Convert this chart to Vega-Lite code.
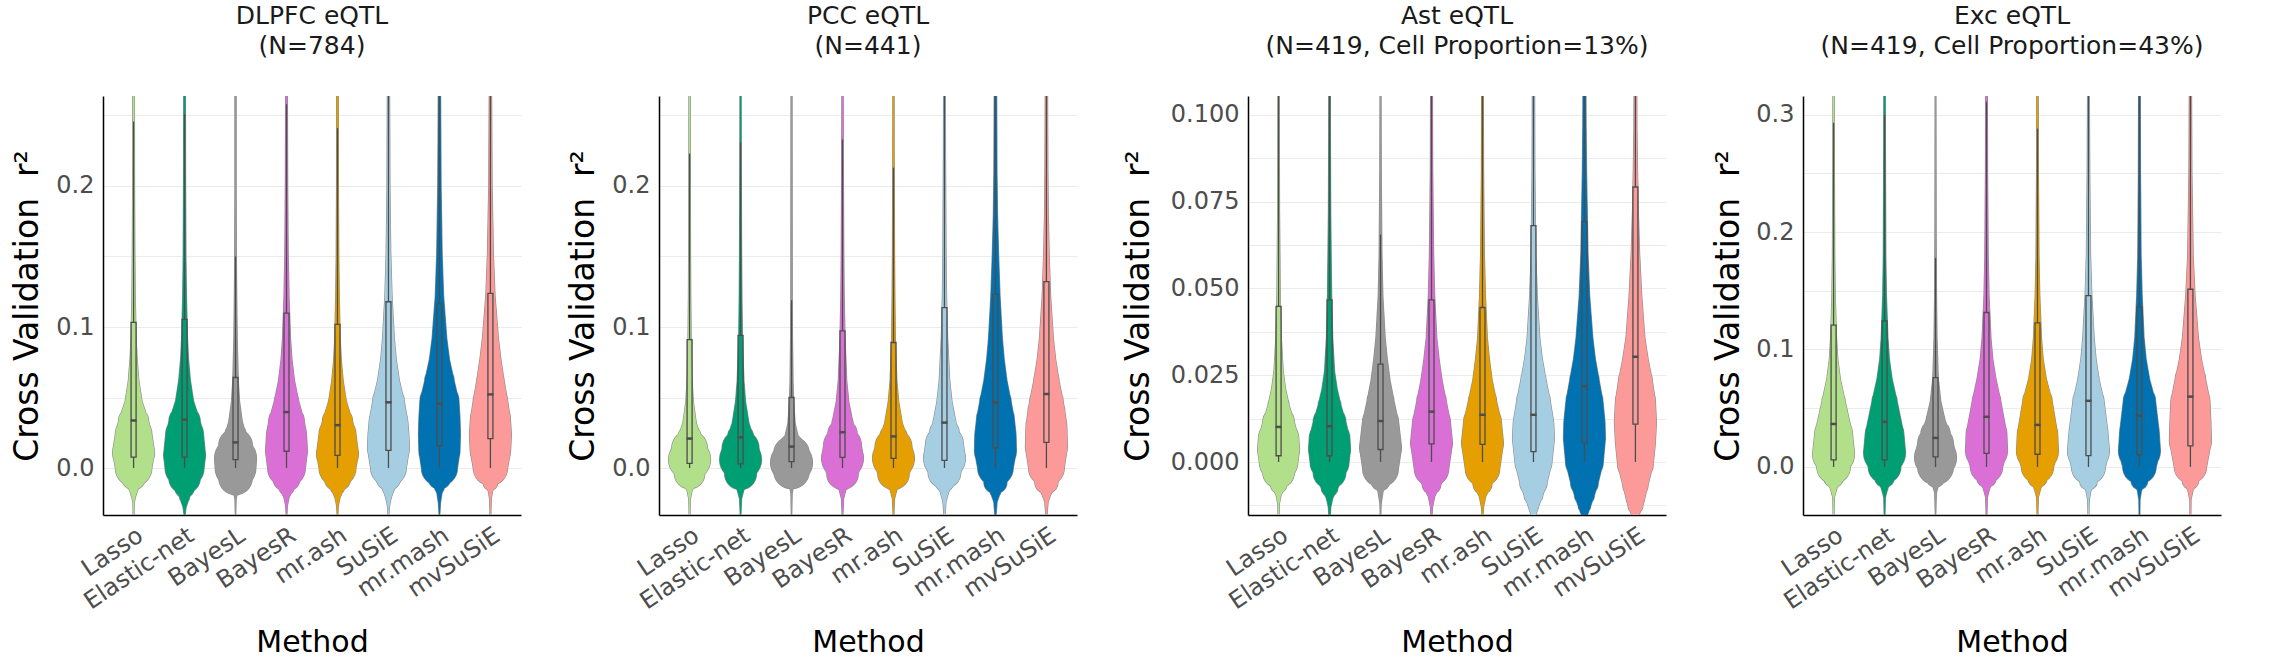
{
"$schema": "https://vega.github.io/schema/vega-lite/v6.json",
"padding": {"left": 10, "top": 4, "right": 5, "bottom": 0},
"background": "white",
"config": {
  "font": "DejaVu Sans",
  "view": {"stroke": null},
  "axis": {"ticks": false, "domainColor": "#000000", "domainWidth": 1.5, "labelColor": "#4d4d4d", "labelFontSize": 24, "titleColor": "#000000", "titleFontWeight": "normal", "gridColor": "#ebebeb", "gridWidth": 1.1},
  "axisX": {"grid": false, "labelAngle": -34, "labelAlign": "right", "labelBaseline": "top", "labelPadding": 8, "titleFontSize": 30, "titleY": 136, "titleBaseline": "alphabetic"},
  "axisY": {"grid": true, "labelPadding": 9, "labelOverlap": false, "titleFontSize": 33, "titleAngle": 270, "titleAlign": "center", "titleBaseline": "alphabetic", "titleY": 209.5},
  "title": {"fontSize": 25, "fontWeight": "normal", "color": "#1a1a1a", "lineHeight": 30, "anchor": "middle", "frame": "group", "baseline": "bottom", "offset": 37}
},
"datasets": {
"boxes": [
{"panel":"DLPFC","method":"Lasso","lower":0,"q1":0.0078,"median":0.0337,"q3":0.1033,"upper":0.2457},
{"panel":"DLPFC","method":"Elastic-net","lower":0,"q1":0.0078,"median":0.0343,"q3":0.1054,"upper":0.251},
{"panel":"DLPFC","method":"BayesL","lower":0,"q1":0.006,"median":0.0182,"q3":0.0642,"upper":0.150},
{"panel":"DLPFC","method":"BayesR","lower":0,"q1":0.0119,"median":0.0397,"q3":0.1099,"upper":0.258},
{"panel":"DLPFC","method":"mr.ash","lower":0,"q1":0.009,"median":0.0304,"q3":0.1018,"upper":0.241},
{"panel":"DLPFC","method":"SuSiE","lower":0,"q1":0.0125,"median":0.0466,"q3":0.1179,"upper":0.28},
{"panel":"DLPFC","method":"mr.mash","lower":0,"q1":0.0158,"median":0.0457,"q3":0.1164,"upper":0.28},
{"panel":"DLPFC","method":"mvSuSiE","lower":0,"q1":0.0209,"median":0.0522,"q3":0.1239,"upper":0.3},
{"panel":"PCC","method":"Lasso","lower":0,"q1":0.0033,"median":0.0209,"q3":0.091,"upper":0.223},
{"panel":"PCC","method":"Elastic-net","lower":0,"q1":0.003,"median":0.0218,"q3":0.094,"upper":0.231},
{"panel":"PCC","method":"BayesL","lower":0,"q1":0.0045,"median":0.0152,"q3":0.050,"upper":0.119},
{"panel":"PCC","method":"BayesR","lower":0,"q1":0.0075,"median":0.0254,"q3":0.0973,"upper":0.233},
{"panel":"PCC","method":"mr.ash","lower":0,"q1":0.0069,"median":0.0224,"q3":0.089,"upper":0.213},
{"panel":"PCC","method":"SuSiE","lower":0,"q1":0.0054,"median":0.0322,"q3":0.1137,"upper":0.28},
{"panel":"PCC","method":"mr.mash","lower":0,"q1":0.0143,"median":0.0466,"q3":0.1233,"upper":0.3},
{"panel":"PCC","method":"mvSuSiE","lower":0,"q1":0.0182,"median":0.0525,"q3":0.1322,"upper":0.3},
{"panel":"Ast","method":"Lasso","lower":0,"q1":0.0018,"median":0.0101,"q3":0.0448,"upper":0.115},
{"panel":"Ast","method":"Elastic-net","lower":0,"q1":0.0018,"median":0.0103,"q3":0.0467,"upper":0.115},
{"panel":"Ast","method":"BayesL","lower":0,"q1":0.0036,"median":0.0118,"q3":0.0282,"upper":0.0655},
{"panel":"Ast","method":"BayesR","lower":0,"q1":0.0052,"median":0.0145,"q3":0.0467,"upper":0.115},
{"panel":"Ast","method":"mr.ash","lower":0,"q1":0.0051,"median":0.0136,"q3":0.0445,"upper":0.115},
{"panel":"Ast","method":"SuSiE","lower":0,"q1":0.003,"median":0.0136,"q3":0.0681,"upper":0.115},
{"panel":"Ast","method":"mr.mash","lower":0,"q1":0.0055,"median":0.0218,"q3":0.0693,"upper":0.115},
{"panel":"Ast","method":"mvSuSiE","lower":0,"q1":0.0109,"median":0.0303,"q3":0.0792,"upper":0.115},
{"panel":"Exc","method":"Lasso","lower":0,"q1":0.0061,"median":0.0366,"q3":0.1208,"upper":0.293},
{"panel":"Exc","method":"Elastic-net","lower":0,"q1":0.0061,"median":0.0384,"q3":0.1244,"upper":0.30},
{"panel":"Exc","method":"BayesL","lower":0,"q1":0.0086,"median":0.0247,"q3":0.076,"upper":0.178},
{"panel":"Exc","method":"BayesR","lower":0,"q1":0.0115,"median":0.0427,"q3":0.1315,"upper":0.311},
{"panel":"Exc","method":"mr.ash","lower":0,"q1":0.0108,"median":0.0358,"q3":0.1226,"upper":0.288},
{"panel":"Exc","method":"SuSiE","lower":0,"q1":0.0097,"median":0.0563,"q3":0.1459,"upper":0.33},
{"panel":"Exc","method":"mr.mash","lower":0,"q1":0.0104,"median":0.0437,"q3":0.1362,"upper":0.33},
{"panel":"Exc","method":"mvSuSiE","lower":0,"q1":0.0179,"median":0.0599,"q3":0.1513,"upper":0.33}
],
"violins": [
{"panel":"DLPFC","method":"Lasso","r2":-0.033,"density":0.02},{"panel":"DLPFC","method":"Lasso","r2":-0.025,"density":0.03},{"panel":"DLPFC","method":"Lasso","r2":-0.021,"density":0.08},{"panel":"DLPFC","method":"Lasso","r2":-0.014,"density":0.23},{"panel":"DLPFC","method":"Lasso","r2":-0.007,"density":0.56},{"panel":"DLPFC","method":"Lasso","r2":0,"density":0.87},{"panel":"DLPFC","method":"Lasso","r2":0.011,"density":1.0},{"panel":"DLPFC","method":"Lasso","r2":0.024,"density":0.87},{"panel":"DLPFC","method":"Lasso","r2":0.033,"density":0.72},{"panel":"DLPFC","method":"Lasso","r2":0.0475,"density":0.4},{"panel":"DLPFC","method":"Lasso","r2":0.062,"density":0.25},{"panel":"DLPFC","method":"Lasso","r2":0.077,"density":0.17},{"panel":"DLPFC","method":"Lasso","r2":0.092,"density":0.12},{"panel":"DLPFC","method":"Lasso","r2":0.122,"density":0.08},{"panel":"DLPFC","method":"Lasso","r2":0.152,"density":0.06},{"panel":"DLPFC","method":"Lasso","r2":0.2,"density":0.045},{"panel":"DLPFC","method":"Lasso","r2":0.28,"density":0.04},
{"panel":"DLPFC","method":"Elastic-net","r2":-0.033,"density":0.03},{"panel":"DLPFC","method":"Elastic-net","r2":-0.028,"density":0.07},{"panel":"DLPFC","method":"Elastic-net","r2":-0.021,"density":0.23},{"panel":"DLPFC","method":"Elastic-net","r2":-0.014,"density":0.47},{"panel":"DLPFC","method":"Elastic-net","r2":-0.007,"density":0.75},{"panel":"DLPFC","method":"Elastic-net","r2":0,"density":0.93},{"panel":"DLPFC","method":"Elastic-net","r2":0.009,"density":1.0},{"panel":"DLPFC","method":"Elastic-net","r2":0.024,"density":0.9},{"panel":"DLPFC","method":"Elastic-net","r2":0.033,"density":0.75},{"panel":"DLPFC","method":"Elastic-net","r2":0.0475,"density":0.43},{"panel":"DLPFC","method":"Elastic-net","r2":0.062,"density":0.28},{"panel":"DLPFC","method":"Elastic-net","r2":0.077,"density":0.19},{"panel":"DLPFC","method":"Elastic-net","r2":0.092,"density":0.14},{"panel":"DLPFC","method":"Elastic-net","r2":0.122,"density":0.09},{"panel":"DLPFC","method":"Elastic-net","r2":0.152,"density":0.065},{"panel":"DLPFC","method":"Elastic-net","r2":0.2,"density":0.05},{"panel":"DLPFC","method":"Elastic-net","r2":0.28,"density":0.04},
{"panel":"DLPFC","method":"BayesL","r2":-0.033,"density":0.01},{"panel":"DLPFC","method":"BayesL","r2":-0.022,"density":0.03},{"panel":"DLPFC","method":"BayesL","r2":-0.018,"density":0.08},{"panel":"DLPFC","method":"BayesL","r2":-0.014,"density":0.35},{"panel":"DLPFC","method":"BayesL","r2":-0.007,"density":0.8},{"panel":"DLPFC","method":"BayesL","r2":0,"density":0.97},{"panel":"DLPFC","method":"BayesL","r2":0.007,"density":1.0},{"panel":"DLPFC","method":"BayesL","r2":0.016,"density":0.8},{"panel":"DLPFC","method":"BayesL","r2":0.024,"density":0.5},{"panel":"DLPFC","method":"BayesL","r2":0.033,"density":0.32},{"panel":"DLPFC","method":"BayesL","r2":0.0475,"density":0.19},{"panel":"DLPFC","method":"BayesL","r2":0.062,"density":0.13},{"panel":"DLPFC","method":"BayesL","r2":0.092,"density":0.08},{"panel":"DLPFC","method":"BayesL","r2":0.122,"density":0.055},{"panel":"DLPFC","method":"BayesL","r2":0.152,"density":0.04},{"panel":"DLPFC","method":"BayesL","r2":0.2,"density":0.03},{"panel":"DLPFC","method":"BayesL","r2":0.28,"density":0.03},
{"panel":"DLPFC","method":"BayesR","r2":-0.033,"density":0.02},{"panel":"DLPFC","method":"BayesR","r2":-0.027,"density":0.04},{"panel":"DLPFC","method":"BayesR","r2":-0.021,"density":0.12},{"panel":"DLPFC","method":"BayesR","r2":-0.014,"density":0.35},{"panel":"DLPFC","method":"BayesR","r2":-0.007,"density":0.65},{"panel":"DLPFC","method":"BayesR","r2":0,"density":0.9},{"panel":"DLPFC","method":"BayesR","r2":0.012,"density":1.0},{"panel":"DLPFC","method":"BayesR","r2":0.024,"density":0.95},{"panel":"DLPFC","method":"BayesR","r2":0.033,"density":0.85},{"panel":"DLPFC","method":"BayesR","r2":0.0475,"density":0.58},{"panel":"DLPFC","method":"BayesR","r2":0.062,"density":0.38},{"panel":"DLPFC","method":"BayesR","r2":0.077,"density":0.26},{"panel":"DLPFC","method":"BayesR","r2":0.092,"density":0.19},{"panel":"DLPFC","method":"BayesR","r2":0.122,"density":0.12},{"panel":"DLPFC","method":"BayesR","r2":0.152,"density":0.08},{"panel":"DLPFC","method":"BayesR","r2":0.2,"density":0.055},{"panel":"DLPFC","method":"BayesR","r2":0.28,"density":0.04},
{"panel":"DLPFC","method":"mr.ash","r2":-0.033,"density":0.02},{"panel":"DLPFC","method":"mr.ash","r2":-0.027,"density":0.04},{"panel":"DLPFC","method":"mr.ash","r2":-0.021,"density":0.12},{"panel":"DLPFC","method":"mr.ash","r2":-0.014,"density":0.33},{"panel":"DLPFC","method":"mr.ash","r2":-0.007,"density":0.63},{"panel":"DLPFC","method":"mr.ash","r2":0,"density":0.88},{"panel":"DLPFC","method":"mr.ash","r2":0.01,"density":1.0},{"panel":"DLPFC","method":"mr.ash","r2":0.024,"density":0.88},{"panel":"DLPFC","method":"mr.ash","r2":0.033,"density":0.72},{"panel":"DLPFC","method":"mr.ash","r2":0.0475,"density":0.42},{"panel":"DLPFC","method":"mr.ash","r2":0.062,"density":0.27},{"panel":"DLPFC","method":"mr.ash","r2":0.077,"density":0.18},{"panel":"DLPFC","method":"mr.ash","r2":0.092,"density":0.13},{"panel":"DLPFC","method":"mr.ash","r2":0.122,"density":0.085},{"panel":"DLPFC","method":"mr.ash","r2":0.152,"density":0.06},{"panel":"DLPFC","method":"mr.ash","r2":0.2,"density":0.045},{"panel":"DLPFC","method":"mr.ash","r2":0.28,"density":0.04},
{"panel":"DLPFC","method":"SuSiE","r2":-0.033,"density":0.02},{"panel":"DLPFC","method":"SuSiE","r2":-0.027,"density":0.05},{"panel":"DLPFC","method":"SuSiE","r2":-0.021,"density":0.13},{"panel":"DLPFC","method":"SuSiE","r2":-0.014,"density":0.3},{"panel":"DLPFC","method":"SuSiE","r2":-0.007,"density":0.58},{"panel":"DLPFC","method":"SuSiE","r2":0,"density":0.85},{"panel":"DLPFC","method":"SuSiE","r2":0.014,"density":1.0},{"panel":"DLPFC","method":"SuSiE","r2":0.024,"density":0.97},{"panel":"DLPFC","method":"SuSiE","r2":0.033,"density":0.92},{"panel":"DLPFC","method":"SuSiE","r2":0.0475,"density":0.75},{"panel":"DLPFC","method":"SuSiE","r2":0.062,"density":0.52},{"panel":"DLPFC","method":"SuSiE","r2":0.077,"density":0.37},{"panel":"DLPFC","method":"SuSiE","r2":0.092,"density":0.28},{"panel":"DLPFC","method":"SuSiE","r2":0.122,"density":0.17},{"panel":"DLPFC","method":"SuSiE","r2":0.152,"density":0.11},{"panel":"DLPFC","method":"SuSiE","r2":0.2,"density":0.07},{"panel":"DLPFC","method":"SuSiE","r2":0.28,"density":0.05},
{"panel":"DLPFC","method":"mr.mash","r2":-0.033,"density":0.02},{"panel":"DLPFC","method":"mr.mash","r2":-0.025,"density":0.05},{"panel":"DLPFC","method":"mr.mash","r2":-0.018,"density":0.12},{"panel":"DLPFC","method":"mr.mash","r2":-0.014,"density":0.23},{"panel":"DLPFC","method":"mr.mash","r2":-0.007,"density":0.54},{"panel":"DLPFC","method":"mr.mash","r2":0,"density":0.86},{"panel":"DLPFC","method":"mr.mash","r2":0.012,"density":0.98},{"panel":"DLPFC","method":"mr.mash","r2":0.024,"density":1.0},{"panel":"DLPFC","method":"mr.mash","r2":0.035,"density":0.98},{"panel":"DLPFC","method":"mr.mash","r2":0.0475,"density":0.93},{"panel":"DLPFC","method":"mr.mash","r2":0.062,"density":0.7},{"panel":"DLPFC","method":"mr.mash","r2":0.077,"density":0.48},{"panel":"DLPFC","method":"mr.mash","r2":0.092,"density":0.35},{"panel":"DLPFC","method":"mr.mash","r2":0.122,"density":0.2},{"panel":"DLPFC","method":"mr.mash","r2":0.152,"density":0.13},{"panel":"DLPFC","method":"mr.mash","r2":0.2,"density":0.08},{"panel":"DLPFC","method":"mr.mash","r2":0.28,"density":0.05},
{"panel":"DLPFC","method":"mvSuSiE","r2":-0.033,"density":0.02},{"panel":"DLPFC","method":"mvSuSiE","r2":-0.022,"density":0.04},{"panel":"DLPFC","method":"mvSuSiE","r2":-0.0165,"density":0.1},{"panel":"DLPFC","method":"mvSuSiE","r2":-0.0105,"density":0.35},{"panel":"DLPFC","method":"mvSuSiE","r2":0,"density":0.82},{"panel":"DLPFC","method":"mvSuSiE","r2":0.012,"density":0.96},{"panel":"DLPFC","method":"mvSuSiE","r2":0.024,"density":1.0},{"panel":"DLPFC","method":"mvSuSiE","r2":0.035,"density":0.95},{"panel":"DLPFC","method":"mvSuSiE","r2":0.0475,"density":0.82},{"panel":"DLPFC","method":"mvSuSiE","r2":0.062,"density":0.65},{"panel":"DLPFC","method":"mvSuSiE","r2":0.077,"density":0.5},{"panel":"DLPFC","method":"mvSuSiE","r2":0.092,"density":0.38},{"panel":"DLPFC","method":"mvSuSiE","r2":0.122,"density":0.22},{"panel":"DLPFC","method":"mvSuSiE","r2":0.152,"density":0.14},{"panel":"DLPFC","method":"mvSuSiE","r2":0.2,"density":0.08},{"panel":"DLPFC","method":"mvSuSiE","r2":0.28,"density":0.05},
{"panel":"PCC","method":"Lasso","r2":-0.033,"density":0.02},{"panel":"PCC","method":"Lasso","r2":-0.022,"density":0.04},{"panel":"PCC","method":"Lasso","r2":-0.016,"density":0.12},{"panel":"PCC","method":"Lasso","r2":-0.01,"density":0.35},{"panel":"PCC","method":"Lasso","r2":-0.004,"density":0.72},{"panel":"PCC","method":"Lasso","r2":0.006,"density":1.0},{"panel":"PCC","method":"Lasso","r2":0.014,"density":0.85},{"panel":"PCC","method":"Lasso","r2":0.022,"density":0.55},{"panel":"PCC","method":"Lasso","r2":0.032,"density":0.32},{"panel":"PCC","method":"Lasso","r2":0.047,"density":0.18},{"panel":"PCC","method":"Lasso","r2":0.062,"density":0.12},{"panel":"PCC","method":"Lasso","r2":0.092,"density":0.075},{"panel":"PCC","method":"Lasso","r2":0.122,"density":0.055},{"panel":"PCC","method":"Lasso","r2":0.152,"density":0.045},{"panel":"PCC","method":"Lasso","r2":0.22,"density":0.035},{"panel":"PCC","method":"Lasso","r2":0.28,"density":0.03},
{"panel":"PCC","method":"Elastic-net","r2":-0.033,"density":0.02},{"panel":"PCC","method":"Elastic-net","r2":-0.022,"density":0.05},{"panel":"PCC","method":"Elastic-net","r2":-0.016,"density":0.15},{"panel":"PCC","method":"Elastic-net","r2":-0.01,"density":0.4},{"panel":"PCC","method":"Elastic-net","r2":-0.004,"density":0.76},{"panel":"PCC","method":"Elastic-net","r2":0.006,"density":1.0},{"panel":"PCC","method":"Elastic-net","r2":0.014,"density":0.88},{"panel":"PCC","method":"Elastic-net","r2":0.022,"density":0.62},{"panel":"PCC","method":"Elastic-net","r2":0.032,"density":0.4},{"panel":"PCC","method":"Elastic-net","r2":0.047,"density":0.24},{"panel":"PCC","method":"Elastic-net","r2":0.062,"density":0.16},{"panel":"PCC","method":"Elastic-net","r2":0.092,"density":0.09},{"panel":"PCC","method":"Elastic-net","r2":0.122,"density":0.065},{"panel":"PCC","method":"Elastic-net","r2":0.152,"density":0.05},{"panel":"PCC","method":"Elastic-net","r2":0.22,"density":0.035},{"panel":"PCC","method":"Elastic-net","r2":0.28,"density":0.03},
{"panel":"PCC","method":"BayesL","r2":-0.033,"density":0.01},{"panel":"PCC","method":"BayesL","r2":-0.018,"density":0.03},{"panel":"PCC","method":"BayesL","r2":-0.013,"density":0.1},{"panel":"PCC","method":"BayesL","r2":-0.008,"density":0.4},{"panel":"PCC","method":"BayesL","r2":-0.002,"density":0.85},{"panel":"PCC","method":"BayesL","r2":0.004,"density":1.0},{"panel":"PCC","method":"BayesL","r2":0.01,"density":0.85},{"panel":"PCC","method":"BayesL","r2":0.016,"density":0.55},{"panel":"PCC","method":"BayesL","r2":0.022,"density":0.32},{"panel":"PCC","method":"BayesL","r2":0.032,"density":0.17},{"panel":"PCC","method":"BayesL","r2":0.047,"density":0.1},{"panel":"PCC","method":"BayesL","r2":0.062,"density":0.07},{"panel":"PCC","method":"BayesL","r2":0.092,"density":0.045},{"panel":"PCC","method":"BayesL","r2":0.12,"density":0.035},{"panel":"PCC","method":"BayesL","r2":0.28,"density":0.025},
{"panel":"PCC","method":"BayesR","r2":-0.033,"density":0.02},{"panel":"PCC","method":"BayesR","r2":-0.022,"density":0.05},{"panel":"PCC","method":"BayesR","r2":-0.016,"density":0.15},{"panel":"PCC","method":"BayesR","r2":-0.01,"density":0.4},{"panel":"PCC","method":"BayesR","r2":-0.004,"density":0.75},{"panel":"PCC","method":"BayesR","r2":0.007,"density":1.0},{"panel":"PCC","method":"BayesR","r2":0.016,"density":0.9},{"panel":"PCC","method":"BayesR","r2":0.024,"density":0.7},{"panel":"PCC","method":"BayesR","r2":0.032,"density":0.5},{"panel":"PCC","method":"BayesR","r2":0.047,"density":0.3},{"panel":"PCC","method":"BayesR","r2":0.062,"density":0.2},{"panel":"PCC","method":"BayesR","r2":0.092,"density":0.12},{"panel":"PCC","method":"BayesR","r2":0.122,"density":0.08},{"panel":"PCC","method":"BayesR","r2":0.152,"density":0.06},{"panel":"PCC","method":"BayesR","r2":0.22,"density":0.04},{"panel":"PCC","method":"BayesR","r2":0.28,"density":0.03},
{"panel":"PCC","method":"mr.ash","r2":-0.033,"density":0.02},{"panel":"PCC","method":"mr.ash","r2":-0.022,"density":0.05},{"panel":"PCC","method":"mr.ash","r2":-0.016,"density":0.15},{"panel":"PCC","method":"mr.ash","r2":-0.01,"density":0.4},{"panel":"PCC","method":"mr.ash","r2":-0.004,"density":0.75},{"panel":"PCC","method":"mr.ash","r2":0.007,"density":1.0},{"panel":"PCC","method":"mr.ash","r2":0.015,"density":0.88},{"panel":"PCC","method":"mr.ash","r2":0.022,"density":0.65},{"panel":"PCC","method":"mr.ash","r2":0.032,"density":0.42},{"panel":"PCC","method":"mr.ash","r2":0.047,"density":0.25},{"panel":"PCC","method":"mr.ash","r2":0.062,"density":0.16},{"panel":"PCC","method":"mr.ash","r2":0.092,"density":0.09},{"panel":"PCC","method":"mr.ash","r2":0.122,"density":0.065},{"panel":"PCC","method":"mr.ash","r2":0.152,"density":0.05},{"panel":"PCC","method":"mr.ash","r2":0.22,"density":0.035},{"panel":"PCC","method":"mr.ash","r2":0.28,"density":0.03},
{"panel":"PCC","method":"SuSiE","r2":-0.033,"density":0.03},{"panel":"PCC","method":"SuSiE","r2":-0.024,"density":0.07},{"panel":"PCC","method":"SuSiE","r2":-0.017,"density":0.2},{"panel":"PCC","method":"SuSiE","r2":-0.01,"density":0.45},{"panel":"PCC","method":"SuSiE","r2":-0.003,"density":0.78},{"panel":"PCC","method":"SuSiE","r2":0.007,"density":1.0},{"panel":"PCC","method":"SuSiE","r2":0.017,"density":0.9},{"panel":"PCC","method":"SuSiE","r2":0.025,"density":0.7},{"panel":"PCC","method":"SuSiE","r2":0.032,"density":0.55},{"panel":"PCC","method":"SuSiE","r2":0.047,"density":0.36},{"panel":"PCC","method":"SuSiE","r2":0.062,"density":0.25},{"panel":"PCC","method":"SuSiE","r2":0.092,"density":0.15},{"panel":"PCC","method":"SuSiE","r2":0.122,"density":0.1},{"panel":"PCC","method":"SuSiE","r2":0.152,"density":0.075},{"panel":"PCC","method":"SuSiE","r2":0.22,"density":0.05},{"panel":"PCC","method":"SuSiE","r2":0.28,"density":0.04},
{"panel":"PCC","method":"mr.mash","r2":-0.033,"density":0.03},{"panel":"PCC","method":"mr.mash","r2":-0.024,"density":0.08},{"panel":"PCC","method":"mr.mash","r2":-0.017,"density":0.25},{"panel":"PCC","method":"mr.mash","r2":-0.01,"density":0.55},{"panel":"PCC","method":"mr.mash","r2":0,"density":0.85},{"panel":"PCC","method":"mr.mash","r2":0.012,"density":1.0},{"panel":"PCC","method":"mr.mash","r2":0.024,"density":0.98},{"panel":"PCC","method":"mr.mash","r2":0.035,"density":0.9},{"panel":"PCC","method":"mr.mash","r2":0.047,"density":0.75},{"panel":"PCC","method":"mr.mash","r2":0.062,"density":0.55},{"panel":"PCC","method":"mr.mash","r2":0.077,"density":0.42},{"panel":"PCC","method":"mr.mash","r2":0.092,"density":0.33},{"panel":"PCC","method":"mr.mash","r2":0.122,"density":0.22},{"panel":"PCC","method":"mr.mash","r2":0.152,"density":0.15},{"panel":"PCC","method":"mr.mash","r2":0.18,"density":0.1},{"panel":"PCC","method":"mr.mash","r2":0.21,"density":0.075},{"panel":"PCC","method":"mr.mash","r2":0.28,"density":0.055},
{"panel":"PCC","method":"mvSuSiE","r2":-0.033,"density":0.03},{"panel":"PCC","method":"mvSuSiE","r2":-0.024,"density":0.08},{"panel":"PCC","method":"mvSuSiE","r2":-0.017,"density":0.25},{"panel":"PCC","method":"mvSuSiE","r2":-0.01,"density":0.55},{"panel":"PCC","method":"mvSuSiE","r2":0,"density":0.85},{"panel":"PCC","method":"mvSuSiE","r2":0.015,"density":1.0},{"panel":"PCC","method":"mvSuSiE","r2":0.03,"density":0.97},{"panel":"PCC","method":"mvSuSiE","r2":0.04,"density":0.88},{"panel":"PCC","method":"mvSuSiE","r2":0.047,"density":0.8},{"panel":"PCC","method":"mvSuSiE","r2":0.062,"density":0.6},{"panel":"PCC","method":"mvSuSiE","r2":0.077,"density":0.44},{"panel":"PCC","method":"mvSuSiE","r2":0.092,"density":0.33},{"panel":"PCC","method":"mvSuSiE","r2":0.122,"density":0.2},{"panel":"PCC","method":"mvSuSiE","r2":0.152,"density":0.13},{"panel":"PCC","method":"mvSuSiE","r2":0.18,"density":0.09},{"panel":"PCC","method":"mvSuSiE","r2":0.21,"density":0.07},{"panel":"PCC","method":"mvSuSiE","r2":0.28,"density":0.05},
{"panel":"Ast","method":"Lasso","r2":-0.016,"density":0.02},{"panel":"Ast","method":"Lasso","r2":-0.012,"density":0.04},{"panel":"Ast","method":"Lasso","r2":-0.0095,"density":0.12},{"panel":"Ast","method":"Lasso","r2":-0.0067,"density":0.38},{"panel":"Ast","method":"Lasso","r2":-0.003,"density":0.75},{"panel":"Ast","method":"Lasso","r2":0,"density":0.92},{"panel":"Ast","method":"Lasso","r2":0.0036,"density":1.0},{"panel":"Ast","method":"Lasso","r2":0.0067,"density":0.96},{"panel":"Ast","method":"Lasso","r2":0.0115,"density":0.75},{"panel":"Ast","method":"Lasso","r2":0.0164,"density":0.5},{"panel":"Ast","method":"Lasso","r2":0.0212,"density":0.33},{"panel":"Ast","method":"Lasso","r2":0.0261,"density":0.22},{"panel":"Ast","method":"Lasso","r2":0.0358,"density":0.13},{"panel":"Ast","method":"Lasso","r2":0.0479,"density":0.08},{"panel":"Ast","method":"Lasso","r2":0.0721,"density":0.045},{"panel":"Ast","method":"Lasso","r2":0.0964,"density":0.035},{"panel":"Ast","method":"Lasso","r2":0.115,"density":0.03},
{"panel":"Ast","method":"Elastic-net","r2":-0.016,"density":0.03},{"panel":"Ast","method":"Elastic-net","r2":-0.013,"density":0.06},{"panel":"Ast","method":"Elastic-net","r2":-0.0105,"density":0.15},{"panel":"Ast","method":"Elastic-net","r2":-0.0075,"density":0.4},{"panel":"Ast","method":"Elastic-net","r2":-0.003,"density":0.78},{"panel":"Ast","method":"Elastic-net","r2":0,"density":0.93},{"panel":"Ast","method":"Elastic-net","r2":0.0036,"density":1.0},{"panel":"Ast","method":"Elastic-net","r2":0.0067,"density":0.97},{"panel":"Ast","method":"Elastic-net","r2":0.0115,"density":0.78},{"panel":"Ast","method":"Elastic-net","r2":0.0164,"density":0.54},{"panel":"Ast","method":"Elastic-net","r2":0.0212,"density":0.36},{"panel":"Ast","method":"Elastic-net","r2":0.0261,"density":0.24},{"panel":"Ast","method":"Elastic-net","r2":0.0358,"density":0.15},{"panel":"Ast","method":"Elastic-net","r2":0.0479,"density":0.1},{"panel":"Ast","method":"Elastic-net","r2":0.0721,"density":0.055},{"panel":"Ast","method":"Elastic-net","r2":0.0964,"density":0.04},{"panel":"Ast","method":"Elastic-net","r2":0.115,"density":0.035},
{"panel":"Ast","method":"BayesL","r2":-0.016,"density":0.01},{"panel":"Ast","method":"BayesL","r2":-0.012,"density":0.03},{"panel":"Ast","method":"BayesL","r2":-0.0085,"density":0.12},{"panel":"Ast","method":"BayesL","r2":-0.0055,"density":0.45},{"panel":"Ast","method":"BayesL","r2":-0.002,"density":0.85},{"panel":"Ast","method":"BayesL","r2":0.0042,"density":1.0},{"panel":"Ast","method":"BayesL","r2":0.0115,"density":0.86},{"panel":"Ast","method":"BayesL","r2":0.0176,"density":0.64},{"panel":"Ast","method":"BayesL","r2":0.0236,"density":0.45},{"panel":"Ast","method":"BayesL","r2":0.0297,"density":0.32},{"panel":"Ast","method":"BayesL","r2":0.0358,"density":0.22},{"panel":"Ast","method":"BayesL","r2":0.0479,"density":0.11},{"panel":"Ast","method":"BayesL","r2":0.06,"density":0.065},{"panel":"Ast","method":"BayesL","r2":0.0842,"density":0.035},{"panel":"Ast","method":"BayesL","r2":0.115,"density":0.02},
{"panel":"Ast","method":"BayesR","r2":-0.016,"density":0.02},{"panel":"Ast","method":"BayesR","r2":-0.013,"density":0.05},{"panel":"Ast","method":"BayesR","r2":-0.01,"density":0.15},{"panel":"Ast","method":"BayesR","r2":-0.0065,"density":0.45},{"panel":"Ast","method":"BayesR","r2":-0.002,"density":0.82},{"panel":"Ast","method":"BayesR","r2":0.0055,"density":1.0},{"panel":"Ast","method":"BayesR","r2":0.0115,"density":0.9},{"panel":"Ast","method":"BayesR","r2":0.0176,"density":0.7},{"panel":"Ast","method":"BayesR","r2":0.0236,"density":0.5},{"panel":"Ast","method":"BayesR","r2":0.0297,"density":0.36},{"panel":"Ast","method":"BayesR","r2":0.0358,"density":0.25},{"panel":"Ast","method":"BayesR","r2":0.0479,"density":0.15},{"panel":"Ast","method":"BayesR","r2":0.06,"density":0.1},{"panel":"Ast","method":"BayesR","r2":0.0842,"density":0.055},{"panel":"Ast","method":"BayesR","r2":0.115,"density":0.04},
{"panel":"Ast","method":"mr.ash","r2":-0.016,"density":0.02},{"panel":"Ast","method":"mr.ash","r2":-0.013,"density":0.05},{"panel":"Ast","method":"mr.ash","r2":-0.01,"density":0.15},{"panel":"Ast","method":"mr.ash","r2":-0.0065,"density":0.45},{"panel":"Ast","method":"mr.ash","r2":-0.002,"density":0.82},{"panel":"Ast","method":"mr.ash","r2":0.0055,"density":1.0},{"panel":"Ast","method":"mr.ash","r2":0.0115,"density":0.9},{"panel":"Ast","method":"mr.ash","r2":0.0176,"density":0.67},{"panel":"Ast","method":"mr.ash","r2":0.0236,"density":0.46},{"panel":"Ast","method":"mr.ash","r2":0.0297,"density":0.33},{"panel":"Ast","method":"mr.ash","r2":0.0358,"density":0.23},{"panel":"Ast","method":"mr.ash","r2":0.0479,"density":0.14},{"panel":"Ast","method":"mr.ash","r2":0.06,"density":0.09},{"panel":"Ast","method":"mr.ash","r2":0.0842,"density":0.05},{"panel":"Ast","method":"mr.ash","r2":0.115,"density":0.04},
{"panel":"Ast","method":"SuSiE","r2":-0.016,"density":0.08},{"panel":"Ast","method":"SuSiE","r2":-0.0127,"density":0.25},{"panel":"Ast","method":"SuSiE","r2":-0.0095,"density":0.45},{"panel":"Ast","method":"SuSiE","r2":-0.006,"density":0.65},{"panel":"Ast","method":"SuSiE","r2":0,"density":0.88},{"panel":"Ast","method":"SuSiE","r2":0.0067,"density":1.0},{"panel":"Ast","method":"SuSiE","r2":0.0115,"density":0.96},{"panel":"Ast","method":"SuSiE","r2":0.0176,"density":0.8},{"panel":"Ast","method":"SuSiE","r2":0.0236,"density":0.6},{"panel":"Ast","method":"SuSiE","r2":0.0297,"density":0.42},{"panel":"Ast","method":"SuSiE","r2":0.0358,"density":0.3},{"panel":"Ast","method":"SuSiE","r2":0.0479,"density":0.18},{"panel":"Ast","method":"SuSiE","r2":0.06,"density":0.11},{"panel":"Ast","method":"SuSiE","r2":0.0842,"density":0.065},{"panel":"Ast","method":"SuSiE","r2":0.115,"density":0.05},
{"panel":"Ast","method":"mr.mash","r2":-0.016,"density":0.1},{"panel":"Ast","method":"mr.mash","r2":-0.0127,"density":0.3},{"panel":"Ast","method":"mr.mash","r2":-0.0095,"density":0.48},{"panel":"Ast","method":"mr.mash","r2":-0.006,"density":0.66},{"panel":"Ast","method":"mr.mash","r2":0,"density":0.9},{"panel":"Ast","method":"mr.mash","r2":0.0067,"density":1.0},{"panel":"Ast","method":"mr.mash","r2":0.0115,"density":0.98},{"panel":"Ast","method":"mr.mash","r2":0.0176,"density":0.88},{"panel":"Ast","method":"mr.mash","r2":0.0236,"density":0.7},{"panel":"Ast","method":"mr.mash","r2":0.0297,"density":0.52},{"panel":"Ast","method":"mr.mash","r2":0.0358,"density":0.4},{"panel":"Ast","method":"mr.mash","r2":0.0479,"density":0.25},{"panel":"Ast","method":"mr.mash","r2":0.06,"density":0.17},{"panel":"Ast","method":"mr.mash","r2":0.0842,"density":0.1},{"panel":"Ast","method":"mr.mash","r2":0.0964,"density":0.08},{"panel":"Ast","method":"mr.mash","r2":0.115,"density":0.065},
{"panel":"Ast","method":"mvSuSiE","r2":-0.016,"density":0.12},{"panel":"Ast","method":"mvSuSiE","r2":-0.0127,"density":0.35},{"panel":"Ast","method":"mvSuSiE","r2":-0.0103,"density":0.45},{"panel":"Ast","method":"mvSuSiE","r2":-0.0067,"density":0.6},{"panel":"Ast","method":"mvSuSiE","r2":-0.0006,"density":0.85},{"panel":"Ast","method":"mvSuSiE","r2":0.0055,"density":0.95},{"panel":"Ast","method":"mvSuSiE","r2":0.0115,"density":1.0},{"panel":"Ast","method":"mvSuSiE","r2":0.0176,"density":0.95},{"panel":"Ast","method":"mvSuSiE","r2":0.0236,"density":0.8},{"panel":"Ast","method":"mvSuSiE","r2":0.0297,"density":0.6},{"panel":"Ast","method":"mvSuSiE","r2":0.0358,"density":0.45},{"panel":"Ast","method":"mvSuSiE","r2":0.0479,"density":0.3},{"panel":"Ast","method":"mvSuSiE","r2":0.06,"density":0.2},{"panel":"Ast","method":"mvSuSiE","r2":0.0721,"density":0.14},{"panel":"Ast","method":"mvSuSiE","r2":0.0842,"density":0.1},{"panel":"Ast","method":"mvSuSiE","r2":0.0964,"density":0.07},{"panel":"Ast","method":"mvSuSiE","r2":0.115,"density":0.06},
{"panel":"Exc","method":"Lasso","r2":-0.041,"density":0.02},{"panel":"Exc","method":"Lasso","r2":-0.026,"density":0.04},{"panel":"Exc","method":"Lasso","r2":-0.018,"density":0.16},{"panel":"Exc","method":"Lasso","r2":-0.009,"density":0.47},{"panel":"Exc","method":"Lasso","r2":0,"density":0.8},{"panel":"Exc","method":"Lasso","r2":0.011,"density":1.0},{"panel":"Exc","method":"Lasso","r2":0.028,"density":0.9},{"panel":"Exc","method":"Lasso","r2":0.056,"density":0.55},{"panel":"Exc","method":"Lasso","r2":0.075,"density":0.32},{"panel":"Exc","method":"Lasso","r2":0.092,"density":0.2},{"panel":"Exc","method":"Lasso","r2":0.11,"density":0.14},{"panel":"Exc","method":"Lasso","r2":0.146,"density":0.08},{"panel":"Exc","method":"Lasso","r2":0.18,"density":0.055},{"panel":"Exc","method":"Lasso","r2":0.25,"density":0.04},{"panel":"Exc","method":"Lasso","r2":0.33,"density":0.03},
{"panel":"Exc","method":"Elastic-net","r2":-0.041,"density":0.02},{"panel":"Exc","method":"Elastic-net","r2":-0.026,"density":0.04},{"panel":"Exc","method":"Elastic-net","r2":-0.018,"density":0.16},{"panel":"Exc","method":"Elastic-net","r2":-0.009,"density":0.47},{"panel":"Exc","method":"Elastic-net","r2":0,"density":0.78},{"panel":"Exc","method":"Elastic-net","r2":0.012,"density":1.0},{"panel":"Exc","method":"Elastic-net","r2":0.028,"density":0.92},{"panel":"Exc","method":"Elastic-net","r2":0.056,"density":0.6},{"panel":"Exc","method":"Elastic-net","r2":0.075,"density":0.36},{"panel":"Exc","method":"Elastic-net","r2":0.092,"density":0.23},{"panel":"Exc","method":"Elastic-net","r2":0.11,"density":0.16},{"panel":"Exc","method":"Elastic-net","r2":0.146,"density":0.09},{"panel":"Exc","method":"Elastic-net","r2":0.18,"density":0.06},{"panel":"Exc","method":"Elastic-net","r2":0.25,"density":0.045},{"panel":"Exc","method":"Elastic-net","r2":0.33,"density":0.035},
{"panel":"Exc","method":"BayesL","r2":-0.041,"density":0.01},{"panel":"Exc","method":"BayesL","r2":-0.022,"density":0.04},{"panel":"Exc","method":"BayesL","r2":-0.016,"density":0.14},{"panel":"Exc","method":"BayesL","r2":-0.009,"density":0.45},{"panel":"Exc","method":"BayesL","r2":0,"density":0.85},{"panel":"Exc","method":"BayesL","r2":0.008,"density":1.0},{"panel":"Exc","method":"BayesL","r2":0.02,"density":0.85},{"panel":"Exc","method":"BayesL","r2":0.028,"density":0.7},{"panel":"Exc","method":"BayesL","r2":0.04,"density":0.45},{"panel":"Exc","method":"BayesL","r2":0.056,"density":0.25},{"panel":"Exc","method":"BayesL","r2":0.075,"density":0.13},{"panel":"Exc","method":"BayesL","r2":0.11,"density":0.07},{"panel":"Exc","method":"BayesL","r2":0.146,"density":0.045},{"panel":"Exc","method":"BayesL","r2":0.2,"density":0.03},{"panel":"Exc","method":"BayesL","r2":0.33,"density":0.02},
{"panel":"Exc","method":"BayesR","r2":-0.041,"density":0.02},{"panel":"Exc","method":"BayesR","r2":-0.026,"density":0.04},{"panel":"Exc","method":"BayesR","r2":-0.018,"density":0.16},{"panel":"Exc","method":"BayesR","r2":-0.009,"density":0.47},{"panel":"Exc","method":"BayesR","r2":0,"density":0.77},{"panel":"Exc","method":"BayesR","r2":0.014,"density":1.0},{"panel":"Exc","method":"BayesR","r2":0.028,"density":0.97},{"panel":"Exc","method":"BayesR","r2":0.056,"density":0.68},{"panel":"Exc","method":"BayesR","r2":0.075,"density":0.45},{"panel":"Exc","method":"BayesR","r2":0.092,"density":0.3},{"panel":"Exc","method":"BayesR","r2":0.11,"density":0.21},{"panel":"Exc","method":"BayesR","r2":0.146,"density":0.12},{"panel":"Exc","method":"BayesR","r2":0.18,"density":0.08},{"panel":"Exc","method":"BayesR","r2":0.25,"density":0.05},{"panel":"Exc","method":"BayesR","r2":0.33,"density":0.04},
{"panel":"Exc","method":"mr.ash","r2":-0.041,"density":0.02},{"panel":"Exc","method":"mr.ash","r2":-0.026,"density":0.04},{"panel":"Exc","method":"mr.ash","r2":-0.018,"density":0.16},{"panel":"Exc","method":"mr.ash","r2":-0.009,"density":0.47},{"panel":"Exc","method":"mr.ash","r2":0,"density":0.77},{"panel":"Exc","method":"mr.ash","r2":0.0136,"density":1.0},{"panel":"Exc","method":"mr.ash","r2":0.028,"density":0.96},{"panel":"Exc","method":"mr.ash","r2":0.056,"density":0.7},{"panel":"Exc","method":"mr.ash","r2":0.075,"density":0.42},{"panel":"Exc","method":"mr.ash","r2":0.092,"density":0.27},{"panel":"Exc","method":"mr.ash","r2":0.11,"density":0.19},{"panel":"Exc","method":"mr.ash","r2":0.146,"density":0.11},{"panel":"Exc","method":"mr.ash","r2":0.18,"density":0.07},{"panel":"Exc","method":"mr.ash","r2":0.25,"density":0.045},{"panel":"Exc","method":"mr.ash","r2":0.33,"density":0.035},
{"panel":"Exc","method":"SuSiE","r2":-0.041,"density":0.02},{"panel":"Exc","method":"SuSiE","r2":-0.028,"density":0.04},{"panel":"Exc","method":"SuSiE","r2":-0.02,"density":0.12},{"panel":"Exc","method":"SuSiE","r2":-0.012,"density":0.42},{"panel":"Exc","method":"SuSiE","r2":0,"density":0.81},{"panel":"Exc","method":"SuSiE","r2":0.0136,"density":1.0},{"panel":"Exc","method":"SuSiE","r2":0.03,"density":0.92},{"panel":"Exc","method":"SuSiE","r2":0.056,"density":0.74},{"panel":"Exc","method":"SuSiE","r2":0.075,"density":0.5},{"panel":"Exc","method":"SuSiE","r2":0.092,"density":0.36},{"panel":"Exc","method":"SuSiE","r2":0.11,"density":0.27},{"panel":"Exc","method":"SuSiE","r2":0.146,"density":0.16},{"panel":"Exc","method":"SuSiE","r2":0.18,"density":0.1},{"panel":"Exc","method":"SuSiE","r2":0.25,"density":0.06},{"panel":"Exc","method":"SuSiE","r2":0.33,"density":0.04},
{"panel":"Exc","method":"mr.mash","r2":-0.041,"density":0.02},{"panel":"Exc","method":"mr.mash","r2":-0.028,"density":0.03},{"panel":"Exc","method":"mr.mash","r2":-0.02,"density":0.1},{"panel":"Exc","method":"mr.mash","r2":-0.012,"density":0.4},{"panel":"Exc","method":"mr.mash","r2":0,"density":0.8},{"panel":"Exc","method":"mr.mash","r2":0.0136,"density":1.0},{"panel":"Exc","method":"mr.mash","r2":0.03,"density":0.94},{"panel":"Exc","method":"mr.mash","r2":0.056,"density":0.77},{"panel":"Exc","method":"mr.mash","r2":0.075,"density":0.48},{"panel":"Exc","method":"mr.mash","r2":0.092,"density":0.32},{"panel":"Exc","method":"mr.mash","r2":0.11,"density":0.22},{"panel":"Exc","method":"mr.mash","r2":0.146,"density":0.13},{"panel":"Exc","method":"mr.mash","r2":0.18,"density":0.08},{"panel":"Exc","method":"mr.mash","r2":0.25,"density":0.05},{"panel":"Exc","method":"mr.mash","r2":0.33,"density":0.04},
{"panel":"Exc","method":"mvSuSiE","r2":-0.041,"density":0.02},{"panel":"Exc","method":"mvSuSiE","r2":-0.028,"density":0.03},{"panel":"Exc","method":"mvSuSiE","r2":-0.02,"density":0.12},{"panel":"Exc","method":"mvSuSiE","r2":-0.012,"density":0.39},{"panel":"Exc","method":"mvSuSiE","r2":0,"density":0.77},{"panel":"Exc","method":"mvSuSiE","r2":0.022,"density":1.0},{"panel":"Exc","method":"mvSuSiE","r2":0.04,"density":0.97},{"panel":"Exc","method":"mvSuSiE","r2":0.056,"density":0.93},{"panel":"Exc","method":"mvSuSiE","r2":0.075,"density":0.72},{"panel":"Exc","method":"mvSuSiE","r2":0.092,"density":0.52},{"panel":"Exc","method":"mvSuSiE","r2":0.11,"density":0.38},{"panel":"Exc","method":"mvSuSiE","r2":0.146,"density":0.22},{"panel":"Exc","method":"mvSuSiE","r2":0.18,"density":0.13},{"panel":"Exc","method":"mvSuSiE","r2":0.25,"density":0.07},{"panel":"Exc","method":"mvSuSiE","r2":0.33,"density":0.05}
]
},
"spacing": 45,
"align": "none",
"hconcat": [
{
 "width": 418, "height": 419,
 "title": {"text": ["DLPFC eQTL", "(N=784)"]},
 "encoding": {"x": {"field": "method", "type": "nominal", "sort": ["Lasso","Elastic-net","BayesL","BayesR","mr.ash","SuSiE","mr.mash","mvSuSiE"], "scale": {"type": "point", "padding": 0.6}, "axis": {"title": "Method"}}},
 "layer": [
  {"data": {"name": "violins"}, "transform": [{"filter": "datum.panel === 'DLPFC'"}], "mark": {"type": "trail", "clip": true, "color": "#8c8c8c"},
   "encoding": {"y": {"field": "r2", "type": "quantitative", "scale": {"domain": [-0.0333, 0.2638], "nice": false, "zero": false}, "axis": {"title": "Cross Validation\u00a0\u00a0r²", "titleX": -66, "values": [0, 0.05, 0.1, 0.15, 0.2, 0.25], "labelExpr": "abs(datum.value*10 - round(datum.value*10)) < 0.001 ? format(datum.value, '.1f') : ''"}},
    "size": {"field": "density", "type": "quantitative", "scale": {"domain": [0, 1], "range": [1.2, 43.2]}, "legend": null}, "detail": {"field": "method"}, "order": {"field": "r2", "type": "quantitative"}}},
  {"data": {"name": "violins"}, "transform": [{"filter": "datum.panel === 'DLPFC'"}], "mark": {"type": "trail", "clip": true},
   "encoding": {"y": {"field": "r2", "type": "quantitative"}, "size": {"field": "density", "type": "quantitative", "scale": {"domain": [0, 1], "range": [0, 42]}, "legend": null},
    "color": {"field": "method", "type": "nominal", "scale": {"domain": ["Lasso","Elastic-net","BayesL","BayesR","mr.ash","SuSiE","mr.mash","mvSuSiE"], "range": ["#B2DF8A","#009E73","#999999","#DA70D6","#E69F00","#A6CEE3","#0072B2","#FB9A99"]}, "legend": null}, "order": {"field": "r2", "type": "quantitative"}}},
  {"data": {"name": "boxes"}, "transform": [{"filter": "datum.panel === 'DLPFC'"}], "mark": {"type": "rule", "color": "#4d4d4d", "strokeWidth": 1.3, "clip": true}, "encoding": {"y": {"field": "lower", "type": "quantitative"}, "y2": {"field": "q1"}}},
  {"data": {"name": "boxes"}, "transform": [{"filter": "datum.panel === 'DLPFC'"}], "mark": {"type": "rule", "color": "#4d4d4d", "strokeWidth": 1.3, "clip": true}, "encoding": {"y": {"field": "q3", "type": "quantitative"}, "y2": {"field": "upper"}}},
  {"data": {"name": "boxes"}, "transform": [{"filter": "datum.panel === 'DLPFC'"}], "mark": {"type": "bar", "width": 5, "fillOpacity": 0, "stroke": "#4d4d4d", "strokeWidth": 1.3, "clip": true}, "encoding": {"y": {"field": "q1", "type": "quantitative"}, "y2": {"field": "q3"}}},
  {"data": {"name": "boxes"}, "transform": [{"filter": "datum.panel === 'DLPFC'"}], "mark": {"type": "tick", "orient": "horizontal", "size": 6, "thickness": 2.5, "color": "#4d4d4d", "opacity": 1, "clip": true}, "encoding": {"y": {"field": "median", "type": "quantitative"}}}
 ],
 "resolve": {"scale": {"size": "independent"}}
},
{
 "width": 418, "height": 419,
 "title": {"text": ["PCC eQTL", "(N=441)"]},
 "encoding": {"x": {"field": "method", "type": "nominal", "sort": ["Lasso","Elastic-net","BayesL","BayesR","mr.ash","SuSiE","mr.mash","mvSuSiE"], "scale": {"type": "point", "padding": 0.6}, "axis": {"title": "Method"}}},
 "layer": [
  {"data": {"name": "violins"}, "transform": [{"filter": "datum.panel === 'PCC'"}], "mark": {"type": "trail", "clip": true, "color": "#8c8c8c"},
   "encoding": {"y": {"field": "r2", "type": "quantitative", "scale": {"domain": [-0.0333, 0.2638], "nice": false, "zero": false}, "axis": {"title": "Cross Validation\u00a0\u00a0r²", "titleX": -66, "values": [0, 0.05, 0.1, 0.15, 0.2, 0.25], "labelExpr": "abs(datum.value*10 - round(datum.value*10)) < 0.001 ? format(datum.value, '.1f') : ''"}},
    "size": {"field": "density", "type": "quantitative", "scale": {"domain": [0, 1], "range": [1.2, 43.2]}, "legend": null}, "detail": {"field": "method"}, "order": {"field": "r2", "type": "quantitative"}}},
  {"data": {"name": "violins"}, "transform": [{"filter": "datum.panel === 'PCC'"}], "mark": {"type": "trail", "clip": true},
   "encoding": {"y": {"field": "r2", "type": "quantitative"}, "size": {"field": "density", "type": "quantitative", "scale": {"domain": [0, 1], "range": [0, 42]}, "legend": null},
    "color": {"field": "method", "type": "nominal", "scale": {"domain": ["Lasso","Elastic-net","BayesL","BayesR","mr.ash","SuSiE","mr.mash","mvSuSiE"], "range": ["#B2DF8A","#009E73","#999999","#DA70D6","#E69F00","#A6CEE3","#0072B2","#FB9A99"]}, "legend": null}, "order": {"field": "r2", "type": "quantitative"}}},
  {"data": {"name": "boxes"}, "transform": [{"filter": "datum.panel === 'PCC'"}], "mark": {"type": "rule", "color": "#4d4d4d", "strokeWidth": 1.3, "clip": true}, "encoding": {"y": {"field": "lower", "type": "quantitative"}, "y2": {"field": "q1"}}},
  {"data": {"name": "boxes"}, "transform": [{"filter": "datum.panel === 'PCC'"}], "mark": {"type": "rule", "color": "#4d4d4d", "strokeWidth": 1.3, "clip": true}, "encoding": {"y": {"field": "q3", "type": "quantitative"}, "y2": {"field": "upper"}}},
  {"data": {"name": "boxes"}, "transform": [{"filter": "datum.panel === 'PCC'"}], "mark": {"type": "bar", "width": 5, "fillOpacity": 0, "stroke": "#4d4d4d", "strokeWidth": 1.3, "clip": true}, "encoding": {"y": {"field": "q1", "type": "quantitative"}, "y2": {"field": "q3"}}},
  {"data": {"name": "boxes"}, "transform": [{"filter": "datum.panel === 'PCC'"}], "mark": {"type": "tick", "orient": "horizontal", "size": 6, "thickness": 2.5, "color": "#4d4d4d", "opacity": 1, "clip": true}, "encoding": {"y": {"field": "median", "type": "quantitative"}}}
 ],
 "resolve": {"scale": {"size": "independent"}}
},
{
 "width": 418, "height": 419,
 "title": {"text": ["Ast eQTL", "(N=419, Cell Proportion=13%)"]},
 "encoding": {"x": {"field": "method", "type": "nominal", "sort": ["Lasso","Elastic-net","BayesL","BayesR","mr.ash","SuSiE","mr.mash","mvSuSiE"], "scale": {"type": "point", "padding": 0.6}, "axis": {"title": "Method"}}},
 "layer": [
  {"data": {"name": "violins"}, "transform": [{"filter": "datum.panel === 'Ast'"}], "mark": {"type": "trail", "clip": true, "color": "#8c8c8c"},
   "encoding": {"y": {"field": "r2", "type": "quantitative", "scale": {"domain": [-0.01526, 0.1054], "nice": false, "zero": false}, "axis": {"title": "Cross Validation\u00a0\u00a0r²", "titleX": -100, "values": [-0.0125, 0, 0.0125, 0.025, 0.0375, 0.05, 0.0625, 0.075, 0.0875, 0.1], "labelExpr": "abs(datum.value*40 - round(datum.value*40)) < 0.001 ? format(datum.value, '.3f') : ''"}},
    "size": {"field": "density", "type": "quantitative", "scale": {"domain": [0, 1], "range": [1.2, 43.2]}, "legend": null}, "detail": {"field": "method"}, "order": {"field": "r2", "type": "quantitative"}}},
  {"data": {"name": "violins"}, "transform": [{"filter": "datum.panel === 'Ast'"}], "mark": {"type": "trail", "clip": true},
   "encoding": {"y": {"field": "r2", "type": "quantitative"}, "size": {"field": "density", "type": "quantitative", "scale": {"domain": [0, 1], "range": [0, 42]}, "legend": null},
    "color": {"field": "method", "type": "nominal", "scale": {"domain": ["Lasso","Elastic-net","BayesL","BayesR","mr.ash","SuSiE","mr.mash","mvSuSiE"], "range": ["#B2DF8A","#009E73","#999999","#DA70D6","#E69F00","#A6CEE3","#0072B2","#FB9A99"]}, "legend": null}, "order": {"field": "r2", "type": "quantitative"}}},
  {"data": {"name": "boxes"}, "transform": [{"filter": "datum.panel === 'Ast'"}], "mark": {"type": "rule", "color": "#4d4d4d", "strokeWidth": 1.3, "clip": true}, "encoding": {"y": {"field": "lower", "type": "quantitative"}, "y2": {"field": "q1"}}},
  {"data": {"name": "boxes"}, "transform": [{"filter": "datum.panel === 'Ast'"}], "mark": {"type": "rule", "color": "#4d4d4d", "strokeWidth": 1.3, "clip": true}, "encoding": {"y": {"field": "q3", "type": "quantitative"}, "y2": {"field": "upper"}}},
  {"data": {"name": "boxes"}, "transform": [{"filter": "datum.panel === 'Ast'"}], "mark": {"type": "bar", "width": 5, "fillOpacity": 0, "stroke": "#4d4d4d", "strokeWidth": 1.3, "clip": true}, "encoding": {"y": {"field": "q1", "type": "quantitative"}, "y2": {"field": "q3"}}},
  {"data": {"name": "boxes"}, "transform": [{"filter": "datum.panel === 'Ast'"}], "mark": {"type": "tick", "orient": "horizontal", "size": 6, "thickness": 2.5, "color": "#4d4d4d", "opacity": 1, "clip": true}, "encoding": {"y": {"field": "median", "type": "quantitative"}}}
 ],
 "resolve": {"scale": {"size": "independent"}}
},
{
 "width": 418, "height": 419,
 "title": {"text": ["Exc eQTL", "(N=419, Cell Proportion=43%)"]},
 "encoding": {"x": {"field": "method", "type": "nominal", "sort": ["Lasso","Elastic-net","BayesL","BayesR","mr.ash","SuSiE","mr.mash","mvSuSiE"], "scale": {"type": "point", "padding": 0.6}, "axis": {"title": "Method"}}},
 "layer": [
  {"data": {"name": "violins"}, "transform": [{"filter": "datum.panel === 'Exc'"}], "mark": {"type": "trail", "clip": true, "color": "#8c8c8c"},
   "encoding": {"y": {"field": "r2", "type": "quantitative", "scale": {"domain": [-0.0409, 0.3158], "nice": false, "zero": false}, "axis": {"title": "Cross Validation\u00a0\u00a0r²", "titleX": -65, "values": [0, 0.05, 0.1, 0.15, 0.2, 0.25, 0.3], "labelExpr": "abs(datum.value*10 - round(datum.value*10)) < 0.001 ? format(datum.value, '.1f') : ''"}},
    "size": {"field": "density", "type": "quantitative", "scale": {"domain": [0, 1], "range": [1.2, 43.2]}, "legend": null}, "detail": {"field": "method"}, "order": {"field": "r2", "type": "quantitative"}}},
  {"data": {"name": "violins"}, "transform": [{"filter": "datum.panel === 'Exc'"}], "mark": {"type": "trail", "clip": true},
   "encoding": {"y": {"field": "r2", "type": "quantitative"}, "size": {"field": "density", "type": "quantitative", "scale": {"domain": [0, 1], "range": [0, 42]}, "legend": null},
    "color": {"field": "method", "type": "nominal", "scale": {"domain": ["Lasso","Elastic-net","BayesL","BayesR","mr.ash","SuSiE","mr.mash","mvSuSiE"], "range": ["#B2DF8A","#009E73","#999999","#DA70D6","#E69F00","#A6CEE3","#0072B2","#FB9A99"]}, "legend": null}, "order": {"field": "r2", "type": "quantitative"}}},
  {"data": {"name": "boxes"}, "transform": [{"filter": "datum.panel === 'Exc'"}], "mark": {"type": "rule", "color": "#4d4d4d", "strokeWidth": 1.3, "clip": true}, "encoding": {"y": {"field": "lower", "type": "quantitative"}, "y2": {"field": "q1"}}},
  {"data": {"name": "boxes"}, "transform": [{"filter": "datum.panel === 'Exc'"}], "mark": {"type": "rule", "color": "#4d4d4d", "strokeWidth": 1.3, "clip": true}, "encoding": {"y": {"field": "q3", "type": "quantitative"}, "y2": {"field": "upper"}}},
  {"data": {"name": "boxes"}, "transform": [{"filter": "datum.panel === 'Exc'"}], "mark": {"type": "bar", "width": 5, "fillOpacity": 0, "stroke": "#4d4d4d", "strokeWidth": 1.3, "clip": true}, "encoding": {"y": {"field": "q1", "type": "quantitative"}, "y2": {"field": "q3"}}},
  {"data": {"name": "boxes"}, "transform": [{"filter": "datum.panel === 'Exc'"}], "mark": {"type": "tick", "orient": "horizontal", "size": 6, "thickness": 2.5, "color": "#4d4d4d", "opacity": 1, "clip": true}, "encoding": {"y": {"field": "median", "type": "quantitative"}}}
 ],
 "resolve": {"scale": {"size": "independent"}}
}
]
}
